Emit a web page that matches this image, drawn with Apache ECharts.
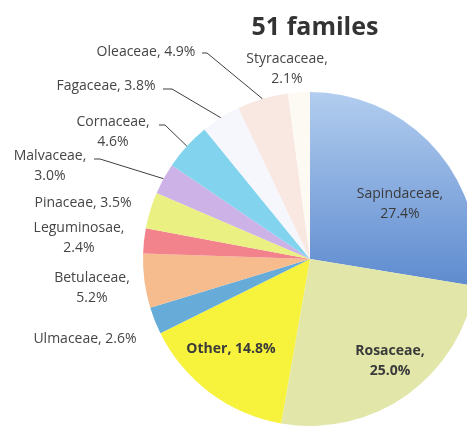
<!DOCTYPE html>
<html><head><meta charset="utf-8">
<script src="https://cdn.jsdelivr.net/npm/echarts@6/dist/echarts.min.js"></script>
<style>html,body{margin:0;padding:0;background:#fff}#c{width:467px;height:445px}</style>
</head><body><div id="c"></div>
<script>
// ---- data ----
const chartTitle = '51 familes';
const families = ['Sapindaceae','Rosaceae','Other','Ulmaceae','Betulaceae','Leguminosae','Pinaceae','Malvaceae','Cornaceae','Fagaceae','Oleaceae','Styracaceae'];
const shares = [27.4, 25.0, 14.8, 2.6, 5.2, 2.4, 3.5, 3.0, 4.6, 3.8, 4.9, 2.1];

// ---- styling / layout ----
const colors = {
  Sapindaceae: {type:'linear',x:0,y:0,x2:0,y2:1,colorStops:[{offset:0,color:'#b2cdef'},{offset:1,color:'#5e8bcf'}]},
  Rosaceae: '#e2e7a9', Other: '#f7f23c', Ulmaceae: '#67acd9', Betulaceae: '#f6bc8e',
  Leguminosae: '#f2838d', Pinaceae: '#eaf081', Malvaceae: '#cdb2e7', Cornaceae: '#82d4ee',
  Fagaceae: '#f5f7fc', Oleaceae: '#f9e7e1', Styracaceae: '#fdf9f3'
};
const twoLine = {Sapindaceae:1, Rosaceae:1, Styracaceae:1, Cornaceae:1, Malvaceae:1, Leguminosae:1, Betulaceae:1};
const inside = {Sapindaceae:1, Rosaceae:1, Other:1};
const boldLabel = {Rosaceae:1, Other:1};
// label centre positions (px) and leader-line elbow/end
const labelAt = {
  Sapindaceae:[400,204], Rosaceae:[390,361], Other:[231,349],
  Ulmaceae:[85,339], Betulaceae:[92,288], Leguminosae:[79,238], Pinaceae:[83,203],
  Malvaceae:[50,166], Cornaceae:[113,132], Fagaceae:[106,86], Oleaceae:[146,52], Styracaceae:[287,69]
};
const leader = {
  Oleaceae:[[207,53],[202,53]], Fagaceae:[[172,89],[163,89]],
  Cornaceae:[[165,125],[159,125]], Malvaceae:[[100,159],[94,159]]
};

const data = families.map((name, i) => ({
  name, value: shares[i],
  itemStyle: {color: colors[name]},
  label: {
    position: inside[name] ? 'inside' : 'outside',
    fontWeight: boldLabel[name] ? 'bold' : (name === 'Sapindaceae' ? 500 : 'normal'),
    color: inside[name] ? '#3a3a3a' : '#454545',
    formatter: p => p.name + ',' + (twoLine[p.name] ? '\n' : ' ') + shares[p.dataIndex].toFixed(1) + '%'
  },
  labelLine: {show: !!leader[name]}
}));

const chart = echarts.init(document.getElementById('c'));
chart.setOption({
  animation: false,
  backgroundColor: '#fff',
  title: {
    text: chartTitle, left: 310, top: 10, textAlign: 'center',
    textStyle: {fontFamily: 'Open Sans', fontSize: 25, fontWeight: 'bold', color: '#333'}
  },
  series: [{
    type: 'pie',
    center: [310, 259],
    radius: 167,
    startAngle: 90,
    clockwise: true,
    avoidLabelOverlap: false,
    data,
    label: {fontFamily: 'Open Sans', fontSize: 14, lineHeight: 20, align: 'center'},
    labelLine: {lineStyle: {color: '#3f3f3f', width: 1}},
    labelLayout: function (params) {
      const name = families[params.dataIndex];
      const pos = labelAt[name];
      const out = {x: pos[0], y: pos[1], align: 'center', verticalAlign: 'middle'};
      if (leader[name] && params.labelLinePoints) {
        const start = params.labelLinePoints[0];
        out.labelLinePoints = [start, leader[name][0], leader[name][1]];
      }
      return out;
    }
  }]
});
</script></body></html>
